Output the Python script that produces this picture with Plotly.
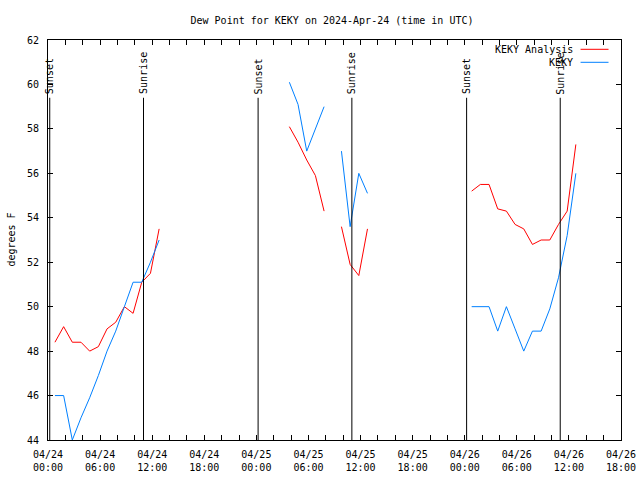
import pandas as pd
import plotly.graph_objects as go

# ---- data ----
seg_starts = ["2024-04-24 00:48", "2024-04-25 03:48", "2024-04-25 09:48", "2024-04-26 00:48"]

analysis_seg1 = [48.4, 49.1, 48.4, 48.4, 48.0, 48.2, 49.0, 49.3, 50.0, 49.7, 51.1, 51.5, 53.5]
analysis_seg2 = [58.1, 57.4, 56.6, 55.9, 54.3]
analysis_seg3 = [53.6, 51.9, 51.4, 53.5]
analysis_seg4 = [55.2, 55.5, 55.5, 54.4, 54.3, 53.7, 53.5, 52.8, 53.0, 53.0, 53.7, 54.3, 57.3]

obs_seg1 = [46.0, 46.0, 44.0, 45.0, 45.9, 46.9, 48.0, 48.9, 50.0, 51.1, 51.1, 52.0, 53.0]
obs_seg2 = [60.1, 59.1, 57.0, 58.0, 59.0]
obs_seg3 = [57.0, 53.6, 56.0, 55.1]
obs_seg4 = [50.0, 50.0, 50.0, 48.9, 50.0, 49.0, 48.0, 48.9, 48.9, 49.9, 51.3, 53.2, 56.0]

sunset_times = ["2024-04-24 00:12", "2024-04-25 00:12", "2024-04-26 00:13"]
sunrise_times = ["2024-04-24 11:00", "2024-04-25 11:00", "2024-04-26 11:00"]

x_range = ["2024-04-24 00:00", "2024-04-26 18:00"]
y_range = [44, 62]

title_text = "Dew Point for KEKY on 2024-Apr-24 (time in UTC)"
series_names = ["KEKY Analysis", "KEKY"]
series_colors = ["#ff0000", "#0080ff"]


def build(start_list, segs):
    xs, ys = [], []
    for st, vals in zip(start_list, segs):
        t = pd.date_range(st, periods=len(vals), freq="h")
        xs.extend(list(t))
        ys.extend(vals)
        xs.append(None)
        ys.append(None)
    return xs, ys


ax, ay = build(seg_starts, [analysis_seg1, analysis_seg2, analysis_seg3, analysis_seg4])
ox, oy = build(seg_starts, [obs_seg1, obs_seg2, obs_seg3, obs_seg4])

FONT = "DejaVu Sans Mono"

fig = go.Figure()
fig.add_trace(go.Scatter(x=ax, y=ay, mode="lines", name=series_names[0],
                         line=dict(color=series_colors[0], width=1), connectgaps=False))
fig.add_trace(go.Scatter(x=ox, y=oy, mode="lines", name=series_names[1],
                         line=dict(color=series_colors[1], width=1), connectgaps=False))

L, R, T, B = 47.5, 18.5, 40, 40
W, H = 640, 480
pw, ph = W - L - R, H - T - B

shapes = []
annotations = []
line_top = 59.4
label_y = 59.46
for times, label in [(sunset_times, "Sunset"), (sunrise_times, "Sunrise")]:
    for t in times:
        shapes.append(dict(type="line", xref="x", yref="y", x0=t, x1=t,
                           y0=y_range[0], y1=line_top,
                           line=dict(color="black", width=1)))
        annotations.append(dict(x=t, y=label_y, xref="x", yref="y", text=label,
                                textangle=-90, showarrow=False, xanchor="center",
                                yanchor="bottom", font=dict(family=FONT, size=10, color="black")))


def px_x(p):
    return (p - L) / pw


def px_y(p):
    return (H - B - p) / ph


# legend drawn gnuplot style (text right, sample line after)
for i, (name, col) in enumerate(zip(series_names, series_colors)):
    yy = 49.3 + i * 13
    annotations.append(dict(x=px_x(575), y=px_y(yy), xref="paper", yref="paper", text=name,
                            showarrow=False, xanchor="right", yanchor="middle",
                            font=dict(family=FONT, size=10, color="black")))
    shapes.append(dict(type="line", xref="paper", yref="paper",
                       x0=px_x(581), x1=px_x(609), y0=px_y(yy), y1=px_y(yy),
                       line=dict(color=col, width=1)))

annotations.append(dict(x=px_x(10), y=0.5, xref="paper", yref="paper", text="degrees F",
                        textangle=-90, showarrow=False, xanchor="center", yanchor="middle",
                        font=dict(family=FONT, size=10, color="black")))

fig.update_layout(
    width=W, height=H, autosize=False,
    margin=dict(l=L, r=R, t=T, b=B, pad=0, autoexpand=False),
    paper_bgcolor="white", plot_bgcolor="white",
    showlegend=False,
    font=dict(family=FONT, size=10, color="black"),
    title=dict(text=title_text, x=332 / W, xref="container", y=1 - 20 / H, yref="container",
               yanchor="middle", xanchor="center", font=dict(family=FONT, size=10, color="black")),
    shapes=shapes, annotations=annotations,
)
fig.update_xaxes(type="date", range=x_range, showgrid=False, zeroline=False, automargin=False,
                 showline=True, linecolor="black", linewidth=1, mirror="allticks",
                 ticks="inside", ticklen=5, tickcolor="black",
                 dtick=6 * 3600 * 1000, tick0="2024-04-24 00:00",
                 tickformat="%m/%d<br>%H:%M", ticklabelstandoff=5,
                 minor=dict(dtick=2 * 3600 * 1000, ticks="inside", ticklen=5, tickcolor="black",
                            showgrid=False),
                 tickfont=dict(family=FONT, size=10, color="black"))
fig.update_yaxes(range=y_range, showgrid=False, zeroline=False, automargin=False,
                 showline=True, linecolor="black", linewidth=1, mirror="allticks",
                 ticks="inside", ticklen=5, tickcolor="black", dtick=2, tick0=44,
                 ticklabelstandoff=6,
                 tickfont=dict(family=FONT, size=10, color="black"))

post = (
    "document.documentElement.style.overflow='hidden';"
    "document.body.style.margin='0';"
    "document.body.style.overflow='hidden';"
    "var gd=document.getElementById('{plot_id}');"
    "Plotly.relayout(gd,{width:640,height:480});"
)
fig.write_html("out.html", post_script=post,
               config={"displayModeBar": False, "responsive": False})
